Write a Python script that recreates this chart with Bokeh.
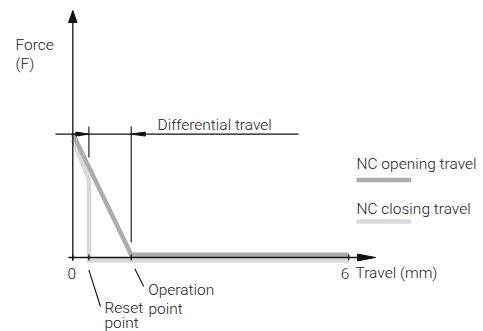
from bokeh.plotting import figure
from bokeh.models import Range1d, Label
from bokeh.embed import file_html
from bokeh.resources import INLINE

# ---- chart data -------------------------------------------------------
travel_ticks = [0, 6]
travel_tick_labels = ["0", "6"]
reset_point = 0.35          # mm
operation_point = 1.27      # mm
open_travel = [0, 1.27, 6]
open_force = [1.0, 0.0, 0.0]
close_travel = [0, 0.35, 0.35, 6]
close_force = [1.0, 0.67, 0.0, 0.0]
differential_level = 1.02
series_names = ["NC opening travel", "NC closing travel"]
series_colors = ["#adadad", "#d9d9d9"]

# ---- layout helpers (picture-pixel -> data) ---------------------------
W, H = 483, 331
PX0, SX = 72.3, 46.0    # px of travel 0, px per mm
PY0, SY = 257.0, 121.0  # px of force 0, px per force unit
BASE_FIX = 4.0          # baseline correction for labels


def rx(px):
    return (px - PX0) / SX


def ry(py):
    return (PY0 - py) / SY


FONT = "Roboto Light, Liberation Sans"
FS = "15.5px"
TXT = "#222222"
INK = "#111111"

ys, ye = ry(H), ry(0)
p = figure(width=W, height=H, output_backend="svg", toolbar_location=None,
           x_range=Range1d(rx(0), rx(W)), y_range=Range1d(ys, ye),
           x_axis_type=None, y_axis_type=None, min_border=0,
           outline_line_color=None)
p.grid.visible = False
p.background_fill_color = "white"
p.border_fill_color = "white"

off_open = 2.8 / SY
off_close = 3.0 / SY
p.extra_y_ranges = {
    "open": Range1d(ys - off_open, ye - off_open),
    "close": Range1d(ys + off_close, ye + off_close),
}

# curves
p.line(close_travel, close_force, y_range_name="close", line_width=4.6,
       line_color=series_colors[1], line_join="miter")
p.line(open_travel, open_force, y_range_name="open", line_width=4.5,
       line_color=series_colors[0], line_join="miter")

# axes
p.line([0, 0], [ry(260), ry(21)], line_color=INK, line_width=1.3)
p.patch([-4.2 / SX, 4.2 / SX, 0], [ry(22), ry(22), ry(10)], color=INK)
p.line([rx(68), rx(358)], [0, 0], line_color=INK, line_width=1.3)
p.patch([rx(357), rx(357), rx(375)], [3.4 / SY, -3.4 / SY, 0], color=INK)

tick_x = travel_ticks + [reset_point, operation_point]
p.segment(x0=tick_x, x1=tick_x, y0=[-3 / SY] * 4, y1=[3 / SY] * 4,
          line_color=INK, line_width=1.2)

# differential travel dimension
p.segment(x0=[rx(55)], x1=[rx(298)], y0=[differential_level], y1=[differential_level],
          line_color=INK, line_width=1.1)
p.segment(x0=[reset_point, operation_point], x1=[reset_point, operation_point],
          y0=[ry(126), ry(126)], y1=[ry(157), ry(242)],
          line_color=INK, line_width=1.1)
p.patch([reset_point, reset_point - 13 / SX, reset_point - 13 / SX],
        [differential_level, differential_level + 2 / SY, differential_level - 2 / SY],
        color=INK)
p.patch([operation_point, operation_point + 14 / SX, operation_point + 14 / SX],
        [differential_level, differential_level + 2 / SY, differential_level - 2 / SY],
        color=INK)

# leader lines
p.segment(x0=[rx(134.3), rx(88.3)], x1=[rx(143.3), rx(100)],
          y0=[ry(268.3), ry(269.3)], y1=[ry(286), ry(306)],
          line_color=INK, line_width=1.1)

# legend swatches
p.segment(x0=[rx(356)] * 2, x1=[rx(410.7)] * 2, y0=[ry(179.5), ry(221)],
          y1=[ry(179.5), ry(221)], line_color=series_colors, line_width=4.5)


def label(text, rxp, rbase, align="left"):
    p.add_layout(Label(x=rxp, y=H - rbase + BASE_FIX, x_units="screen", y_units="screen",
                       text=text, text_font=FONT, text_font_size=FS,
                       text_color=TXT, text_align=align,
                       text_baseline="alphabetic"))


label("Force", 15, 48)
label("(F)", 15, 67.5)
label("Differential travel", 157, 128)
label(series_names[0], 356, 167)
label(series_names[1], 356, 212)
label("Travel (mm)", 355, 276.7)
label("Operation", 147.7, 293)
label("point", 148, 312.5)
label("Reset", 104, 311.5)
label("point", 104, 326)

# tick labels from data
for t, lab in zip(travel_ticks, travel_tick_labels):
    p.add_layout(Label(x=t, y=H - 276.7 + BASE_FIX, x_units="data", y_units="screen",
                       text=lab, text_font=FONT, text_font_size=FS,
                       text_color=TXT, text_align="center" if t == 0 else "right",
                       x_offset=-1 if t == 0 else 0.5,
                       text_baseline="alphabetic"))

open("out.html", "w").write(file_html(p, INLINE))
